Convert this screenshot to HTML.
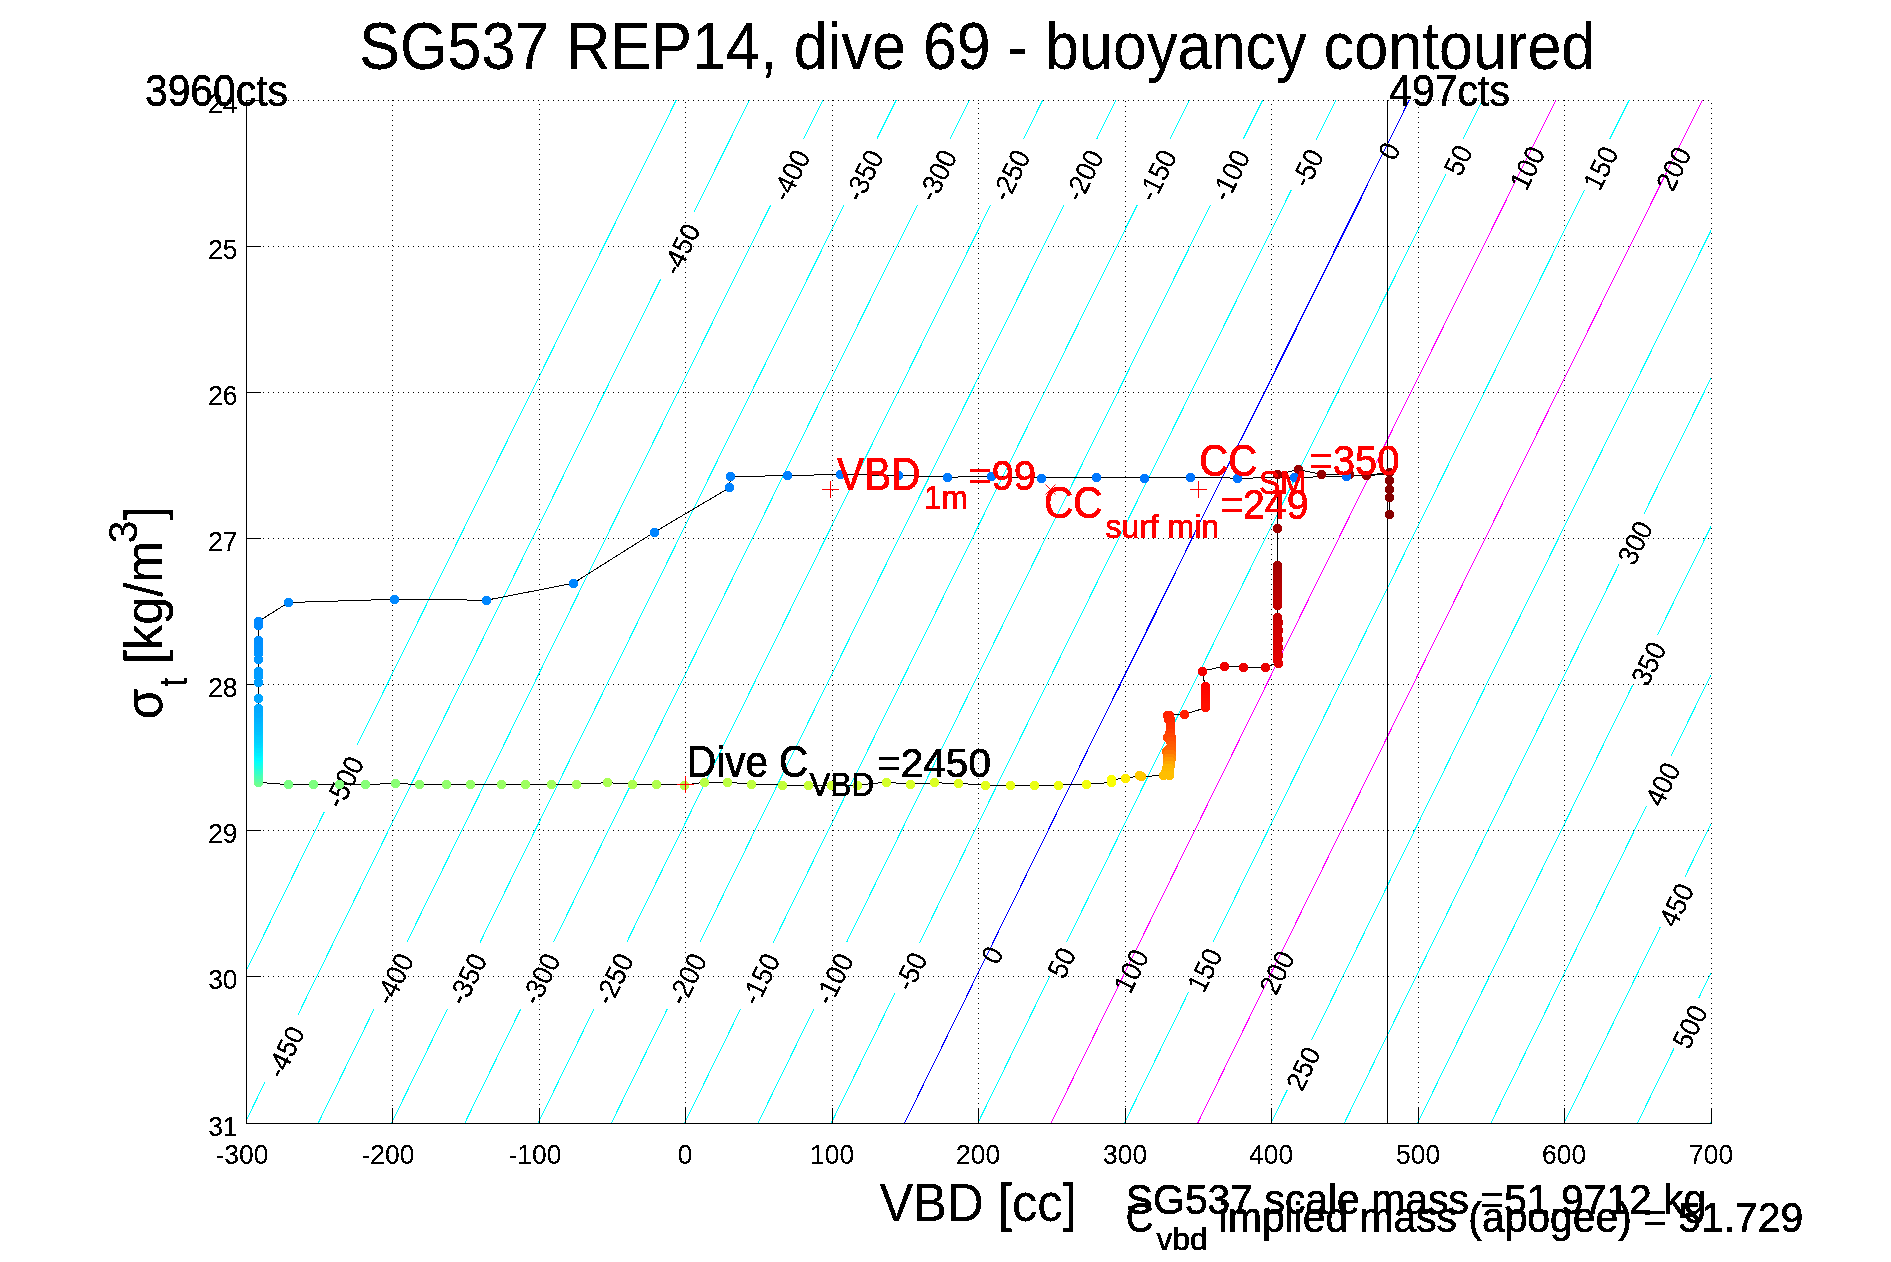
<!DOCTYPE html>
<html><head><meta charset="utf-8"><title>SG537 REP14 dive 69</title>
<style>html,body{margin:0;padding:0;background:#fff;}svg{display:block}text{font-family:"Liberation Sans",sans-serif;}</style></head><body>
<svg width="1891" height="1262" viewBox="0 0 1891 1262">
<rect width="1891" height="1262" fill="#fff"/>
<defs><filter id="bw" x="0" y="0" width="100%" height="100%" filterUnits="userSpaceOnUse" color-interpolation-filters="sRGB"><feComponentTransfer><feFuncA type="discrete" tableValues="0 0 1 1 1"/></feComponentTransfer></filter></defs>
<g shape-rendering="crispEdges" stroke="#000" stroke-width="1" stroke-dasharray="1 4" fill="none">
<line x1="248" y1="100.5" x2="1712" y2="100.5"/>
<line x1="248" y1="246.5" x2="1712" y2="246.5"/>
<line x1="248" y1="392.5" x2="1712" y2="392.5"/>
<line x1="248" y1="538.5" x2="1712" y2="538.5"/>
<line x1="248" y1="684.5" x2="1712" y2="684.5"/>
<line x1="248" y1="830.5" x2="1712" y2="830.5"/>
<line x1="248" y1="976.5" x2="1712" y2="976.5"/>
<line x1="392.5" y1="100" x2="392.5" y2="1123"/>
<line x1="539.5" y1="104" x2="539.5" y2="1123"/>
<line x1="685.5" y1="102" x2="685.5" y2="1123"/>
<line x1="832.5" y1="100" x2="832.5" y2="1123"/>
<line x1="978.5" y1="103" x2="978.5" y2="1123"/>
<line x1="1125.5" y1="101" x2="1125.5" y2="1123"/>
<line x1="1271.5" y1="104" x2="1271.5" y2="1123"/>
<line x1="1418.5" y1="102" x2="1418.5" y2="1123"/>
<line x1="1564.5" y1="100" x2="1564.5" y2="1123"/>
<line x1="1711.5" y1="103" x2="1711.5" y2="1123"/>
</g>
<g stroke="#00ffff" stroke-width="1" fill="none" shape-rendering="crispEdges">
<polyline points="676.30,100.00 647.15,158.66 618.03,217.31 588.93,275.97 559.86,334.62 530.82,393.28 501.80,451.94 472.81,510.59 443.85,569.25 414.91,627.91 386.00,686.56 357.11,745.22"/>
<polyline points="324.46,811.58 298.29,864.84 272.13,918.09 246.00,971.34"/>
<polyline points="749.60,100.00 721.64,156.26 693.71,212.52"/>
<polyline points="660.79,278.88 632.72,335.52 604.68,392.15 576.66,448.78 548.67,505.42 520.70,562.05 492.75,618.68 464.83,675.32 436.94,731.95 409.07,788.58 381.22,845.22 353.40,901.85 325.60,958.48 297.83,1015.12"/>
<polyline points="265.31,1081.48 255.66,1101.21 246.00,1120.94"/>
<polyline points="822.90,100.00 813.28,119.36 803.66,138.72"/>
<polyline points="770.70,205.08 742.56,261.80 714.44,318.52 686.35,375.24 658.28,431.95 630.24,488.67 602.22,545.39 574.22,602.11 546.25,658.83 518.31,715.55 490.39,772.26 462.49,828.98 434.62,885.70 406.77,942.42"/>
<polyline points="374.22,1008.78 346.24,1065.89 318.28,1123.00"/>
<polyline points="896.20,100.00 886.58,119.36 876.96,138.72"/>
<polyline points="844.00,205.08 815.85,261.80 787.74,318.52 759.64,375.24 731.58,431.95 703.53,488.67 675.51,545.39 647.52,602.11 619.55,658.83 591.60,715.55 563.68,772.26 535.79,828.98 507.91,885.70 480.07,942.42"/>
<polyline points="447.52,1008.78 419.53,1065.89 391.57,1123.00"/>
<polyline points="969.50,100.00 959.88,119.36 950.25,138.72"/>
<polyline points="917.30,205.08 889.15,261.80 861.03,318.52 832.94,375.24 804.87,431.95 776.83,488.67 748.81,545.39 720.81,602.11 692.84,658.83 664.90,715.55 636.97,772.26 609.08,828.98 581.21,885.70 553.36,942.42"/>
<polyline points="520.81,1008.78 492.82,1065.89 464.86,1123.00"/>
<polyline points="1042.80,100.00 1033.18,119.36 1023.55,138.72"/>
<polyline points="990.59,205.08 962.45,261.80 934.33,318.52 906.24,375.24 878.17,431.95 850.12,488.67 822.10,545.39 794.11,602.11 766.14,658.83 738.19,715.55 710.27,772.26 682.37,828.98 654.50,885.70 626.65,942.42"/>
<polyline points="594.10,1008.78 566.11,1065.89 538.15,1123.00"/>
<polyline points="1116.10,100.00 1106.48,119.36 1096.85,138.72"/>
<polyline points="1063.89,205.08 1035.75,261.80 1007.63,318.52 979.54,375.24 951.47,431.95 923.42,488.67 895.40,545.39 867.40,602.11 839.43,658.83 811.48,715.55 783.56,772.26 755.66,828.98 727.79,885.70 699.94,942.42"/>
<polyline points="667.39,1008.78 639.40,1065.89 611.44,1123.00"/>
<polyline points="1189.40,100.00 1179.78,119.36 1170.15,138.72"/>
<polyline points="1137.19,205.08 1109.05,261.80 1080.93,318.52 1052.83,375.24 1024.76,431.95 996.72,488.67 968.69,545.39 940.70,602.11 912.73,658.83 884.78,715.55 856.86,772.26 828.96,828.98 801.08,885.70 773.23,942.42"/>
<polyline points="740.68,1008.78 712.69,1065.89 684.73,1123.00"/>
<polyline points="1262.70,100.00 1253.08,119.36 1243.45,138.72"/>
<polyline points="1210.49,205.08 1182.35,261.80 1154.23,318.52 1126.13,375.24 1098.06,431.95 1070.01,488.67 1041.99,545.39 1013.99,602.11 986.02,658.83 958.07,715.55 930.15,772.26 902.25,828.98 874.38,885.70 846.53,942.42"/>
<polyline points="813.97,1008.78 785.98,1065.89 758.02,1123.00"/>
<polyline points="1336.00,100.00 1326.18,119.74 1316.37,139.49"/>
<polyline points="1291.42,189.71 1262.67,247.63 1233.95,305.55 1205.25,363.47 1176.58,421.40 1147.93,479.32 1119.31,537.24 1090.72,595.16 1062.15,653.08 1033.60,711.00 1005.09,768.93 976.59,826.85 948.13,884.77 919.68,942.69"/>
<polyline points="895.04,992.91 873.79,1036.27 852.54,1079.64 831.31,1123.00"/>
<polyline points="1482.60,100.00 1472.85,119.61 1463.11,139.21"/>
<polyline points="1445.73,174.19 1416.40,233.26 1387.10,292.34 1357.82,351.41 1328.57,410.49 1299.35,469.56 1270.15,528.64 1240.98,587.71 1211.84,646.79 1182.72,705.86 1153.64,764.94 1124.57,824.01 1095.54,883.09 1066.53,942.16"/>
<polyline points="1049.80,976.24 1025.81,1025.16 1001.84,1074.08 977.89,1123.00"/>
<polyline points="1629.20,100.00 1619.38,119.74 1609.57,139.49"/>
<polyline points="1584.62,189.71 1555.91,247.54 1527.23,305.37 1498.58,363.20 1469.95,421.03 1441.35,478.86 1412.77,536.69 1384.22,594.51 1355.69,652.34 1327.19,710.17 1298.71,768.00 1270.26,825.83 1241.84,883.66 1213.44,941.49"/>
<polyline points="1188.80,991.71 1167.34,1035.47 1145.90,1079.24 1124.47,1123.00"/>
<polyline points="1711.00,230.43 1682.32,288.25 1653.66,346.07 1625.03,403.89 1596.42,461.71 1567.84,519.52 1539.28,577.34 1510.75,635.16 1482.25,692.98 1453.77,750.80 1425.32,808.62 1396.89,866.43 1368.49,924.25 1340.11,982.07 1311.76,1039.89"/>
<polyline points="1287.15,1090.11 1279.10,1106.56 1271.05,1123.00"/>
<polyline points="1711.00,378.28 1688.59,423.55 1666.20,468.82 1643.82,514.09"/>
<polyline points="1619.01,564.31 1591.44,620.18 1563.89,676.05 1536.36,731.92 1508.86,787.79 1481.38,843.66 1453.92,899.52 1426.49,955.39 1399.08,1011.26 1371.70,1067.13 1344.34,1123.00"/>
<polyline points="1711.00,526.47 1684.23,580.68 1657.48,634.89"/>
<polyline points="1632.71,685.11 1605.75,739.85 1578.81,794.58 1551.89,849.32 1524.99,904.06 1498.12,958.79 1471.26,1013.53 1444.44,1068.26 1417.63,1123.00"/>
<polyline points="1711.00,674.98 1691.11,715.34 1671.24,755.69"/>
<polyline points="1646.53,805.91 1620.54,858.76 1594.57,911.61 1568.63,964.46 1542.70,1017.30 1516.80,1070.15 1490.92,1123.00"/>
<polyline points="1711.00,823.84 1698.08,850.11 1685.17,876.39"/>
<polyline points="1660.50,926.61 1636.40,975.71 1612.32,1024.81 1588.25,1073.90 1564.21,1123.00"/>
<polyline points="1711.00,973.03 1704.83,985.61 1698.66,998.19"/>
<polyline points="1674.04,1048.41 1655.76,1085.71 1637.50,1123.00"/>
<polyline points="1711.00,1122.57 1710.89,1122.79 1710.79,1123.00"/>
</g>
<g stroke-width="1" fill="none" shape-rendering="crispEdges">
<polyline points="1555.90,100.00 1527.65,156.83 1499.42,213.67 1471.22,270.50 1443.05,327.33 1414.90,384.17 1386.77,441.00 1358.67,497.83 1330.59,554.67 1302.54,611.50 1274.51,668.33 1246.51,725.17 1218.53,782.00 1190.58,838.83 1162.65,895.67 1134.74,952.50 1106.86,1009.33 1079.01,1066.17 1051.18,1123.00" stroke="#ff00ff"/>
<polyline points="1702.50,100.00 1674.25,156.83 1646.02,213.67 1617.82,270.50 1589.64,327.33 1561.49,384.17 1533.36,441.00 1505.26,497.83 1477.18,554.67 1449.13,611.50 1421.10,668.33 1393.10,725.17 1365.12,782.00 1337.16,838.83 1309.23,895.67 1281.33,952.50 1253.45,1009.33 1225.59,1066.17 1197.76,1123.00" stroke="#ff00ff"/>
<polyline points="1409.30,100.00 1381.05,156.83 1352.83,213.67 1324.63,270.50 1296.45,327.33 1268.30,384.17 1240.18,441.00 1212.08,497.83 1184.00,554.67 1155.95,611.50 1127.92,668.33 1099.92,725.17 1071.94,782.00 1043.99,838.83 1016.06,895.67 988.16,952.50 960.28,1009.33 932.43,1066.17 904.60,1123.00" stroke="#0000ff"/>
<line x1="1367.66" y1="185" x2="1241.12" y2="440" stroke="#0000ff"/>
<line x1="1175.94" y1="572" x2="1117.75" y2="690" stroke="#0000ff"/>
</g>
<g shape-rendering="crispEdges" stroke="#000" stroke-width="1" fill="none">
<line x1="246.5" y1="100" x2="246.5" y2="1124"/>
<line x1="246" y1="1123.5" x2="1712" y2="1123.5"/>
<line x1="246" y1="100.5" x2="261" y2="100.5"/>
<line x1="246" y1="246.5" x2="261" y2="246.5"/>
<line x1="246" y1="392.5" x2="261" y2="392.5"/>
<line x1="246" y1="538.5" x2="261" y2="538.5"/>
<line x1="246" y1="684.5" x2="261" y2="684.5"/>
<line x1="246" y1="830.5" x2="261" y2="830.5"/>
<line x1="246" y1="976.5" x2="261" y2="976.5"/>
<line x1="246" y1="1123.5" x2="261" y2="1123.5"/>
<line x1="246.5" y1="1108" x2="246.5" y2="1124"/>
<line x1="392.5" y1="1108" x2="392.5" y2="1124"/>
<line x1="539.5" y1="1108" x2="539.5" y2="1124"/>
<line x1="685.5" y1="1108" x2="685.5" y2="1124"/>
<line x1="832.5" y1="1108" x2="832.5" y2="1124"/>
<line x1="978.5" y1="1108" x2="978.5" y2="1124"/>
<line x1="1125.5" y1="1108" x2="1125.5" y2="1124"/>
<line x1="1271.5" y1="1108" x2="1271.5" y2="1124"/>
<line x1="1418.5" y1="1108" x2="1418.5" y2="1124"/>
<line x1="1564.5" y1="1108" x2="1564.5" y2="1124"/>
<line x1="1711.5" y1="1108" x2="1711.5" y2="1124"/>
<line x1="1387.5" y1="100" x2="1387.5" y2="1124"/>
</g>
<g filter="url(#bw)">
<text transform="translate(353.3,786.2) rotate(-63.74) scale(0.93,1)" font-size="28.4" text-anchor="middle">-500</text>
<text transform="translate(689.7,253.5) rotate(-63.74) scale(0.93,1)" font-size="28.4" text-anchor="middle">-450</text>
<text transform="translate(294.0,1056.1) rotate(-63.74) scale(0.93,1)" font-size="28.4" text-anchor="middle">-450</text>
<text transform="translate(799.6,179.7) rotate(-63.74) scale(0.93,1)" font-size="28.4" text-anchor="middle">-400</text>
<text transform="translate(403.0,983.4) rotate(-63.74) scale(0.93,1)" font-size="28.4" text-anchor="middle">-400</text>
<text transform="translate(872.9,179.7) rotate(-63.74) scale(0.93,1)" font-size="28.4" text-anchor="middle">-350</text>
<text transform="translate(476.3,983.4) rotate(-63.74) scale(0.93,1)" font-size="28.4" text-anchor="middle">-350</text>
<text transform="translate(946.2,179.7) rotate(-63.74) scale(0.93,1)" font-size="28.4" text-anchor="middle">-300</text>
<text transform="translate(549.6,983.4) rotate(-63.74) scale(0.93,1)" font-size="28.4" text-anchor="middle">-300</text>
<text transform="translate(1019.5,179.7) rotate(-63.74) scale(0.93,1)" font-size="28.4" text-anchor="middle">-250</text>
<text transform="translate(622.8,983.4) rotate(-63.74) scale(0.93,1)" font-size="28.4" text-anchor="middle">-250</text>
<text transform="translate(1092.8,179.7) rotate(-63.74) scale(0.93,1)" font-size="28.4" text-anchor="middle">-200</text>
<text transform="translate(696.1,983.4) rotate(-63.74) scale(0.93,1)" font-size="28.4" text-anchor="middle">-200</text>
<text transform="translate(1166.1,179.7) rotate(-63.74) scale(0.93,1)" font-size="28.4" text-anchor="middle">-150</text>
<text transform="translate(769.4,983.4) rotate(-63.74) scale(0.93,1)" font-size="28.4" text-anchor="middle">-150</text>
<text transform="translate(1239.4,179.7) rotate(-63.74) scale(0.93,1)" font-size="28.4" text-anchor="middle">-100</text>
<text transform="translate(842.7,983.4) rotate(-63.74) scale(0.93,1)" font-size="28.4" text-anchor="middle">-100</text>
<text transform="translate(1316.4,172.4) rotate(-63.74) scale(0.93,1)" font-size="28.4" text-anchor="middle">-50</text>
<text transform="translate(919.8,975.6) rotate(-63.74) scale(0.93,1)" font-size="28.4" text-anchor="middle">-50</text>
<text transform="translate(1398.1,155.5) rotate(-63.74) scale(0.93,1)" font-size="28.4" text-anchor="middle">0</text>
<text transform="translate(1001.0,959.5) rotate(-63.74) scale(0.93,1)" font-size="28.4" text-anchor="middle">0</text>
<text transform="translate(1466.9,164.5) rotate(-63.74) scale(0.93,1)" font-size="28.4" text-anchor="middle">50</text>
<text transform="translate(1070.6,967.0) rotate(-63.74) scale(0.93,1)" font-size="28.4" text-anchor="middle">50</text>
<text transform="translate(1536.3,172.3) rotate(-63.74) scale(0.93,1)" font-size="28.4" text-anchor="middle">100</text>
<text transform="translate(1139.9,975.3) rotate(-63.74) scale(0.93,1)" font-size="28.4" text-anchor="middle">100</text>
<text transform="translate(1609.6,172.4) rotate(-63.74) scale(0.93,1)" font-size="28.4" text-anchor="middle">150</text>
<text transform="translate(1213.6,974.4) rotate(-63.74) scale(0.93,1)" font-size="28.4" text-anchor="middle">150</text>
<text transform="translate(1682.5,173.2) rotate(-63.74) scale(0.93,1)" font-size="28.4" text-anchor="middle">200</text>
<text transform="translate(1285.7,976.8) rotate(-63.74) scale(0.93,1)" font-size="28.4" text-anchor="middle">200</text>
<text transform="translate(1311.9,1072.8) rotate(-63.74) scale(0.93,1)" font-size="28.4" text-anchor="middle">250</text>
<text transform="translate(1643.9,547.0) rotate(-63.74) scale(0.93,1)" font-size="28.4" text-anchor="middle">300</text>
<text transform="translate(1657.6,667.8) rotate(-63.74) scale(0.93,1)" font-size="28.4" text-anchor="middle">350</text>
<text transform="translate(1671.4,788.6) rotate(-63.74) scale(0.93,1)" font-size="28.4" text-anchor="middle">400</text>
<text transform="translate(1685.3,909.3) rotate(-63.74) scale(0.93,1)" font-size="28.4" text-anchor="middle">450</text>
<text transform="translate(1698.8,1031.1) rotate(-63.74) scale(0.93,1)" font-size="28.4" text-anchor="middle">500</text>
<text transform="translate(237.50,112.90) scale(0.9300,1)" font-size="28.4" fill="#000" text-anchor="end">24</text>
<text transform="translate(237.50,258.90) scale(0.9300,1)" font-size="28.4" fill="#000" text-anchor="end">25</text>
<text transform="translate(237.50,404.90) scale(0.9300,1)" font-size="28.4" fill="#000" text-anchor="end">26</text>
<text transform="translate(237.50,550.90) scale(0.9300,1)" font-size="28.4" fill="#000" text-anchor="end">27</text>
<text transform="translate(237.50,696.90) scale(0.9300,1)" font-size="28.4" fill="#000" text-anchor="end">28</text>
<text transform="translate(237.50,842.90) scale(0.9300,1)" font-size="28.4" fill="#000" text-anchor="end">29</text>
<text transform="translate(237.50,988.90) scale(0.9300,1)" font-size="28.4" fill="#000" text-anchor="end">30</text>
<text transform="translate(237.50,1135.90) scale(0.9300,1)" font-size="28.4" fill="#000" text-anchor="end">31</text>
<text transform="translate(241.90,1163.60) scale(0.9300,1)" font-size="28.4" fill="#000" text-anchor="middle">-300</text>
<text transform="translate(387.90,1163.60) scale(0.9300,1)" font-size="28.4" fill="#000" text-anchor="middle">-200</text>
<text transform="translate(534.90,1163.60) scale(0.9300,1)" font-size="28.4" fill="#000" text-anchor="middle">-100</text>
<text transform="translate(685.10,1163.60) scale(0.9300,1)" font-size="28.4" fill="#000" text-anchor="middle">0</text>
<text transform="translate(832.10,1163.60) scale(0.9300,1)" font-size="28.4" fill="#000" text-anchor="middle">100</text>
<text transform="translate(978.10,1163.60) scale(0.9300,1)" font-size="28.4" fill="#000" text-anchor="middle">200</text>
<text transform="translate(1125.10,1163.60) scale(0.9300,1)" font-size="28.4" fill="#000" text-anchor="middle">300</text>
<text transform="translate(1271.10,1163.60) scale(0.9300,1)" font-size="28.4" fill="#000" text-anchor="middle">400</text>
<text transform="translate(1418.10,1163.60) scale(0.9300,1)" font-size="28.4" fill="#000" text-anchor="middle">500</text>
<text transform="translate(1564.10,1163.60) scale(0.9300,1)" font-size="28.4" fill="#000" text-anchor="middle">600</text>
<text transform="translate(1711.10,1163.60) scale(0.9300,1)" font-size="28.4" fill="#000" text-anchor="middle">700</text>
</g>
<polyline fill="none" stroke="#000" stroke-width="1" shape-rendering="crispEdges" points="1388.5,474.5 1346.7,476.1 1294.4,477.5 1237.7,478.2 1190.8,477.1 1144.2,478.0 1096.1,477.1 1041.5,478.0 991.9,476.7 947.5,477.1 898.4,475.4 840.7,474.6 787.4,475.4 730.5,476.9 729.5,487.7 654.3,532.2 573.2,583.3 486.4,600.2 394.2,599.3 288.5,602.5 258.5,621.4 258.5,625.0 258.5,640.9 258.5,645.2 258.5,649.1 258.5,653.9 258.5,659.4 258.5,671.3 258.5,676.9 258.5,682.4 258.5,698.3 258.5,708.6 258.5,713.3 258.5,717.3 258.5,719.9 258.5,722.5 258.5,725.1 258.5,727.7 258.5,730.3 258.5,732.9 258.5,735.5 258.5,738.1 258.5,740.7 258.5,743.3 258.5,745.9 258.5,748.5 258.5,751.1 258.5,753.7 258.5,756.3 258.5,758.9 258.5,761.5 258.5,764.1 258.5,766.7 258.5,769.3 258.5,771.9 258.5,774.5 258.5,777.1 258.5,779.7 258.5,782.3 288.5,784.7 313.4,784.7 339.9,784.7 365.6,784.7 395.1,783.3 419.9,784.7 446.5,784.7 470.7,784.7 501.3,784.7 525.6,784.7 551.2,784.7 576.4,784.1 607.8,782.7 632.6,784.1 656.3,784.1 684.3,785.1 704.3,782.2 727.1,782.2 751.9,784.2 782.2,785.1 808.5,785.7 831.3,785.7 857.0,785.1 886.4,782.2 910.7,784.2 934.1,782.8 958.4,783.4 985.0,785.1 1010.7,785.1 1034.6,785.1 1058.9,785.1 1086.9,784.2 1111.2,782.5 1111.6,779.5 1125.5,778.5 1139.8,775.6 1141.2,776.6 1163.7,775.4 1169.5,775.4 1165.5,772.0 1169.5,772.0 1166.7,768.4 1169.5,768.4 1167.0,765.0 1170.0,765.0 1167.5,761.4 1170.5,761.4 1167.5,758.0 1171.0,758.0 1167.0,754.5 1171.5,754.5 1166.5,751.0 1171.5,751.0 1169.0,748.0 1171.5,748.0 1171.5,745.5 1170.0,741.4 1171.5,741.4 1167.5,737.5 1171.0,737.5 1169.5,733.5 1170.5,733.5 1170.5,729.2 1170.5,726.0 1170.5,723.0 1168.5,719.0 1170.5,719.0 1167.5,715.3 1169.5,715.3 1184.4,714.4 1205.3,707.9 1205.3,705.2 1205.3,702.5 1205.3,699.8 1205.3,697.1 1205.3,694.5 1205.3,691.8 1205.3,689.1 1205.3,686.4 1202.0,671.3 1224.2,666.0 1243.0,667.1 1265.2,667.1 1278.5,663.1 1277.9,660.4 1277.9,657.7 1278.5,655.1 1277.9,652.4 1277.9,649.7 1278.5,647.0 1277.9,644.4 1277.9,641.7 1278.5,639.0 1277.9,636.3 1277.9,633.7 1278.5,631.0 1277.9,628.3 1277.9,625.6 1278.5,623.0 1277.9,620.3 1277.9,617.6 1277.9,605.4 1277.9,602.7 1277.9,600.1 1277.9,597.4 1277.9,594.8 1277.9,592.1 1277.9,589.4 1277.9,586.8 1277.9,584.1 1277.9,581.5 1277.9,578.8 1277.9,576.1 1277.9,573.5 1277.9,570.8 1277.9,568.2 1277.9,565.5 1277.7,528.6 1277.7,474.4 1298.1,469.6 1321.5,474.4 1349.6,474.9 1366.7,475.8 1389.5,472.0 1389.5,480.6 1389.5,489.1 1389.5,497.7 1389.5,514.4"/>
<g stroke="none" shape-rendering="crispEdges">
<circle cx="1389.5" cy="514.5" r="4.6" fill="rgb(133,0,0)"/>
<circle cx="1389.5" cy="497.5" r="4.6" fill="rgb(133,0,0)"/>
<circle cx="1389.5" cy="489.5" r="4.6" fill="rgb(133,0,0)"/>
<circle cx="1389.5" cy="480.5" r="4.6" fill="rgb(133,0,0)"/>
<circle cx="1389.5" cy="472.5" r="4.6" fill="rgb(133,0,0)"/>
<circle cx="1366.5" cy="475.5" r="4.6" fill="rgb(145,0,0)"/>
<circle cx="1349.5" cy="474.5" r="4.6" fill="rgb(147,0,0)"/>
<circle cx="1321.5" cy="474.5" r="4.6" fill="rgb(149,0,0)"/>
<circle cx="1298.5" cy="469.5" r="4.6" fill="rgb(151,0,0)"/>
<circle cx="1277.5" cy="474.5" r="4.6" fill="rgb(153,0,0)"/>
<circle cx="1277.5" cy="528.5" r="4.6" fill="rgb(160,0,0)"/>
<circle cx="1277.5" cy="565.5" r="4.6" fill="rgb(163,0,0)"/>
<circle cx="1277.5" cy="568.5" r="4.6" fill="rgb(165,0,0)"/>
<circle cx="1277.5" cy="570.5" r="4.6" fill="rgb(167,0,0)"/>
<circle cx="1277.5" cy="573.5" r="4.6" fill="rgb(169,0,0)"/>
<circle cx="1277.5" cy="576.5" r="4.6" fill="rgb(171,0,0)"/>
<circle cx="1277.5" cy="578.5" r="4.6" fill="rgb(173,0,0)"/>
<circle cx="1277.5" cy="581.5" r="4.6" fill="rgb(175,0,0)"/>
<circle cx="1277.5" cy="584.5" r="4.6" fill="rgb(177,0,0)"/>
<circle cx="1277.5" cy="586.5" r="4.6" fill="rgb(180,0,0)"/>
<circle cx="1277.5" cy="589.5" r="4.6" fill="rgb(182,0,0)"/>
<circle cx="1277.5" cy="592.5" r="4.6" fill="rgb(184,0,0)"/>
<circle cx="1277.5" cy="594.5" r="4.6" fill="rgb(186,0,0)"/>
<circle cx="1277.5" cy="597.5" r="4.6" fill="rgb(188,0,0)"/>
<circle cx="1277.5" cy="600.5" r="4.6" fill="rgb(190,0,0)"/>
<circle cx="1277.5" cy="602.5" r="4.6" fill="rgb(192,0,0)"/>
<circle cx="1277.5" cy="605.5" r="4.6" fill="rgb(194,0,0)"/>
<circle cx="1277.5" cy="617.5" r="4.6" fill="rgb(199,0,0)"/>
<circle cx="1277.5" cy="620.5" r="4.6" fill="rgb(201,0,0)"/>
<circle cx="1278.5" cy="622.5" r="4.6" fill="rgb(202,0,0)"/>
<circle cx="1277.5" cy="625.5" r="4.6" fill="rgb(204,0,0)"/>
<circle cx="1277.5" cy="628.5" r="4.6" fill="rgb(206,0,0)"/>
<circle cx="1278.5" cy="630.5" r="4.6" fill="rgb(208,0,0)"/>
<circle cx="1277.5" cy="633.5" r="4.6" fill="rgb(210,0,0)"/>
<circle cx="1277.5" cy="636.5" r="4.6" fill="rgb(211,0,0)"/>
<circle cx="1278.5" cy="639.5" r="4.6" fill="rgb(213,0,0)"/>
<circle cx="1277.5" cy="641.5" r="4.6" fill="rgb(215,0,0)"/>
<circle cx="1277.5" cy="644.5" r="4.6" fill="rgb(217,0,0)"/>
<circle cx="1278.5" cy="647.5" r="4.6" fill="rgb(219,0,0)"/>
<circle cx="1277.5" cy="649.5" r="4.6" fill="rgb(220,0,0)"/>
<circle cx="1277.5" cy="652.5" r="4.6" fill="rgb(222,0,0)"/>
<circle cx="1278.5" cy="655.5" r="4.6" fill="rgb(224,0,0)"/>
<circle cx="1277.5" cy="657.5" r="4.6" fill="rgb(226,0,0)"/>
<circle cx="1277.5" cy="660.5" r="4.6" fill="rgb(228,0,0)"/>
<circle cx="1278.5" cy="663.5" r="4.6" fill="rgb(229,0,0)"/>
<circle cx="1265.5" cy="667.5" r="4.6" fill="rgb(233,0,0)"/>
<circle cx="1243.5" cy="667.5" r="4.6" fill="rgb(236,0,0)"/>
<circle cx="1224.5" cy="666.5" r="4.6" fill="rgb(240,0,0)"/>
<circle cx="1202.5" cy="671.5" r="4.6" fill="rgb(245,0,0)"/>
<circle cx="1205.5" cy="686.5" r="4.6" fill="rgb(255,0,0)"/>
<circle cx="1205.5" cy="689.5" r="4.6" fill="rgb(255,2,0)"/>
<circle cx="1205.5" cy="691.5" r="4.6" fill="rgb(255,4,0)"/>
<circle cx="1205.5" cy="694.5" r="4.6" fill="rgb(255,7,0)"/>
<circle cx="1205.5" cy="697.5" r="4.6" fill="rgb(255,9,0)"/>
<circle cx="1205.5" cy="699.5" r="4.6" fill="rgb(255,11,0)"/>
<circle cx="1205.5" cy="702.5" r="4.6" fill="rgb(255,13,0)"/>
<circle cx="1205.5" cy="705.5" r="4.6" fill="rgb(255,15,0)"/>
<circle cx="1205.5" cy="707.5" r="4.6" fill="rgb(255,17,0)"/>
<circle cx="1184.5" cy="714.5" r="4.6" fill="rgb(255,30,0)"/>
<circle cx="1169.5" cy="715.5" r="4.6" fill="rgb(255,31,0)"/>
<circle cx="1167.5" cy="715.5" r="4.6" fill="rgb(255,31,0)"/>
<circle cx="1170.5" cy="719.5" r="4.6" fill="rgb(255,36,0)"/>
<circle cx="1168.5" cy="719.5" r="4.6" fill="rgb(255,36,0)"/>
<circle cx="1170.5" cy="723.5" r="4.6" fill="rgb(255,41,0)"/>
<circle cx="1170.5" cy="726.5" r="4.6" fill="rgb(255,46,0)"/>
<circle cx="1170.5" cy="729.5" r="4.6" fill="rgb(255,50,0)"/>
<circle cx="1170.5" cy="733.5" r="4.6" fill="rgb(255,60,0)"/>
<circle cx="1169.5" cy="733.5" r="4.6" fill="rgb(255,60,0)"/>
<circle cx="1171.5" cy="737.5" r="4.6" fill="rgb(255,69,0)"/>
<circle cx="1167.5" cy="737.5" r="4.6" fill="rgb(255,69,0)"/>
<circle cx="1171.5" cy="741.5" r="4.6" fill="rgb(255,78,0)"/>
<circle cx="1170.5" cy="741.5" r="4.6" fill="rgb(255,78,0)"/>
<circle cx="1171.5" cy="745.5" r="4.6" fill="rgb(255,87,0)"/>
<circle cx="1171.5" cy="748.5" r="4.6" fill="rgb(255,93,0)"/>
<circle cx="1169.5" cy="748.5" r="4.6" fill="rgb(255,93,0)"/>
<circle cx="1171.5" cy="751.5" r="4.6" fill="rgb(255,99,0)"/>
<circle cx="1166.5" cy="751.5" r="4.6" fill="rgb(255,99,0)"/>
<circle cx="1171.5" cy="754.5" r="4.6" fill="rgb(255,117,0)"/>
<circle cx="1167.5" cy="754.5" r="4.6" fill="rgb(255,117,0)"/>
<circle cx="1171.5" cy="758.5" r="4.6" fill="rgb(255,135,0)"/>
<circle cx="1167.5" cy="758.5" r="4.6" fill="rgb(255,135,0)"/>
<circle cx="1170.5" cy="761.5" r="4.6" fill="rgb(255,151,0)"/>
<circle cx="1167.5" cy="761.5" r="4.6" fill="rgb(255,151,0)"/>
<circle cx="1170.5" cy="765.5" r="4.6" fill="rgb(255,167,0)"/>
<circle cx="1167.5" cy="765.5" r="4.6" fill="rgb(255,167,0)"/>
<circle cx="1169.5" cy="768.5" r="4.6" fill="rgb(255,181,0)"/>
<circle cx="1166.5" cy="768.5" r="4.6" fill="rgb(255,181,0)"/>
<circle cx="1169.5" cy="772.5" r="4.6" fill="rgb(255,185,0)"/>
<circle cx="1165.5" cy="772.5" r="4.6" fill="rgb(255,185,0)"/>
<circle cx="1169.5" cy="775.5" r="4.6" fill="rgb(255,190,0)"/>
<circle cx="1163.5" cy="775.5" r="4.6" fill="rgb(255,190,0)"/>
<circle cx="1141.5" cy="776.5" r="4.6" fill="rgb(255,195,0)"/>
<circle cx="1139.5" cy="775.5" r="4.6" fill="rgb(255,200,0)"/>
<circle cx="1125.5" cy="778.5" r="4.6" fill="rgb(255,237,0)"/>
<circle cx="1111.5" cy="779.5" r="4.6" fill="rgb(251,255,4)"/>
<circle cx="1111.5" cy="782.5" r="4.6" fill="rgb(250,255,5)"/>
<circle cx="1086.5" cy="784.5" r="4.6" fill="rgb(242,255,13)"/>
<circle cx="1058.5" cy="785.5" r="4.6" fill="rgb(238,255,17)"/>
<circle cx="1034.5" cy="785.5" r="4.6" fill="rgb(234,255,21)"/>
<circle cx="1010.5" cy="785.5" r="4.6" fill="rgb(231,255,24)"/>
<circle cx="985.5" cy="785.5" r="4.6" fill="rgb(227,255,28)"/>
<circle cx="958.5" cy="783.5" r="4.6" fill="rgb(223,255,32)"/>
<circle cx="934.5" cy="782.5" r="4.6" fill="rgb(219,255,36)"/>
<circle cx="910.5" cy="784.5" r="4.6" fill="rgb(216,255,39)"/>
<circle cx="886.5" cy="782.5" r="4.6" fill="rgb(212,255,43)"/>
<circle cx="857.5" cy="785.5" r="4.6" fill="rgb(208,255,47)"/>
<circle cx="831.5" cy="785.5" r="4.6" fill="rgb(204,255,51)"/>
<circle cx="808.5" cy="785.5" r="4.6" fill="rgb(200,255,55)"/>
<circle cx="782.5" cy="785.5" r="4.6" fill="rgb(196,255,59)"/>
<circle cx="751.5" cy="784.5" r="4.6" fill="rgb(192,255,63)"/>
<circle cx="727.5" cy="782.5" r="4.6" fill="rgb(188,255,67)"/>
<circle cx="704.5" cy="782.5" r="4.6" fill="rgb(185,255,70)"/>
<circle cx="684.5" cy="785.5" r="4.6" fill="rgb(182,255,73)"/>
<circle cx="656.5" cy="784.5" r="4.6" fill="rgb(177,255,78)"/>
<circle cx="632.5" cy="784.5" r="4.6" fill="rgb(174,255,81)"/>
<circle cx="607.5" cy="782.5" r="4.6" fill="rgb(170,255,85)"/>
<circle cx="576.5" cy="784.5" r="4.6" fill="rgb(166,255,89)"/>
<circle cx="551.5" cy="784.5" r="4.6" fill="rgb(162,255,93)"/>
<circle cx="525.5" cy="784.5" r="4.6" fill="rgb(158,255,97)"/>
<circle cx="501.5" cy="784.5" r="4.6" fill="rgb(154,255,101)"/>
<circle cx="470.5" cy="784.5" r="4.6" fill="rgb(150,255,105)"/>
<circle cx="446.5" cy="784.5" r="4.6" fill="rgb(146,255,109)"/>
<circle cx="419.5" cy="784.5" r="4.6" fill="rgb(142,255,113)"/>
<circle cx="395.5" cy="783.5" r="4.6" fill="rgb(138,255,117)"/>
<circle cx="365.5" cy="784.5" r="4.6" fill="rgb(134,255,121)"/>
<circle cx="339.5" cy="784.5" r="4.6" fill="rgb(130,255,125)"/>
<circle cx="313.5" cy="784.5" r="4.6" fill="rgb(126,255,129)"/>
<circle cx="288.5" cy="784.5" r="4.6" fill="rgb(122,255,133)"/>
<circle cx="258.5" cy="782.5" r="4.6" fill="rgb(112,255,143)"/>
<circle cx="258.5" cy="779.5" r="4.6" fill="rgb(100,255,155)"/>
<circle cx="258.5" cy="777.5" r="4.6" fill="rgb(88,255,167)"/>
<circle cx="258.5" cy="774.5" r="4.6" fill="rgb(75,255,180)"/>
<circle cx="258.5" cy="771.5" r="4.6" fill="rgb(63,255,192)"/>
<circle cx="258.5" cy="769.5" r="4.6" fill="rgb(51,255,204)"/>
<circle cx="258.5" cy="766.5" r="4.6" fill="rgb(39,255,216)"/>
<circle cx="258.5" cy="764.5" r="4.6" fill="rgb(26,255,229)"/>
<circle cx="258.5" cy="761.5" r="4.6" fill="rgb(14,255,241)"/>
<circle cx="258.5" cy="758.5" r="4.6" fill="rgb(2,255,253)"/>
<circle cx="258.5" cy="756.5" r="4.6" fill="rgb(0,250,255)"/>
<circle cx="258.5" cy="753.5" r="4.6" fill="rgb(0,243,255)"/>
<circle cx="258.5" cy="751.5" r="4.6" fill="rgb(0,237,255)"/>
<circle cx="258.5" cy="748.5" r="4.6" fill="rgb(0,230,255)"/>
<circle cx="258.5" cy="745.5" r="4.6" fill="rgb(0,224,255)"/>
<circle cx="258.5" cy="743.5" r="4.6" fill="rgb(0,217,255)"/>
<circle cx="258.5" cy="740.5" r="4.6" fill="rgb(0,212,255)"/>
<circle cx="258.5" cy="738.5" r="4.6" fill="rgb(0,208,255)"/>
<circle cx="258.5" cy="735.5" r="4.6" fill="rgb(0,204,255)"/>
<circle cx="258.5" cy="732.5" r="4.6" fill="rgb(0,200,255)"/>
<circle cx="258.5" cy="730.5" r="4.6" fill="rgb(0,195,255)"/>
<circle cx="258.5" cy="727.5" r="4.6" fill="rgb(0,191,255)"/>
<circle cx="258.5" cy="725.5" r="4.6" fill="rgb(0,188,255)"/>
<circle cx="258.5" cy="722.5" r="4.6" fill="rgb(0,185,255)"/>
<circle cx="258.5" cy="719.5" r="4.6" fill="rgb(0,181,255)"/>
<circle cx="258.5" cy="717.5" r="4.6" fill="rgb(0,178,255)"/>
<circle cx="258.5" cy="713.5" r="4.6" fill="rgb(0,173,255)"/>
<circle cx="258.5" cy="708.5" r="4.6" fill="rgb(0,169,255)"/>
<circle cx="258.5" cy="698.5" r="4.6" fill="rgb(0,165,255)"/>
<circle cx="258.5" cy="682.5" r="4.6" fill="rgb(0,159,255)"/>
<circle cx="258.5" cy="676.5" r="4.6" fill="rgb(0,157,255)"/>
<circle cx="258.5" cy="671.5" r="4.6" fill="rgb(0,155,255)"/>
<circle cx="258.5" cy="659.5" r="4.6" fill="rgb(0,150,255)"/>
<circle cx="258.5" cy="653.5" r="4.6" fill="rgb(0,148,255)"/>
<circle cx="258.5" cy="649.5" r="4.6" fill="rgb(0,146,255)"/>
<circle cx="258.5" cy="645.5" r="4.6" fill="rgb(0,145,255)"/>
<circle cx="258.5" cy="640.5" r="4.6" fill="rgb(0,143,255)"/>
<circle cx="258.5" cy="625.5" r="4.6" fill="rgb(0,137,255)"/>
<circle cx="258.5" cy="621.5" r="4.6" fill="rgb(0,136,255)"/>
<circle cx="288.5" cy="602.5" r="4.6" fill="rgb(0,137,255)"/>
<circle cx="394.5" cy="599.5" r="4.6" fill="rgb(0,136,255)"/>
<circle cx="486.5" cy="600.5" r="4.6" fill="rgb(0,135,255)"/>
<circle cx="573.5" cy="583.5" r="4.6" fill="rgb(0,133,255)"/>
<circle cx="654.5" cy="532.5" r="4.6" fill="rgb(0,132,255)"/>
<circle cx="729.5" cy="487.5" r="4.6" fill="rgb(0,130,255)"/>
<circle cx="730.5" cy="476.5" r="4.6" fill="rgb(0,129,255)"/>
<circle cx="787.5" cy="475.5" r="4.6" fill="rgb(0,128,255)"/>
<circle cx="840.5" cy="474.5" r="4.6" fill="rgb(0,126,255)"/>
<circle cx="898.5" cy="475.5" r="4.6" fill="rgb(0,125,255)"/>
<circle cx="947.5" cy="477.5" r="4.6" fill="rgb(0,123,255)"/>
<circle cx="991.5" cy="476.5" r="4.6" fill="rgb(0,122,255)"/>
<circle cx="1041.5" cy="478.5" r="4.6" fill="rgb(0,121,255)"/>
<circle cx="1096.5" cy="477.5" r="4.6" fill="rgb(0,119,255)"/>
<circle cx="1144.5" cy="478.5" r="4.6" fill="rgb(0,118,255)"/>
<circle cx="1190.5" cy="477.5" r="4.6" fill="rgb(0,116,255)"/>
<circle cx="1237.5" cy="478.5" r="4.6" fill="rgb(0,115,255)"/>
<circle cx="1294.5" cy="477.5" r="4.6" fill="rgb(0,114,255)"/>
<circle cx="1346.5" cy="476.5" r="4.6" fill="rgb(0,112,255)"/>
</g>
<g stroke="#ff0000" stroke-width="1" fill="none" shape-rendering="crispEdges">
<line x1="822.0" y1="489.5" x2="839.0" y2="489.5"/><line x1="830.5" y1="481.0" x2="830.5" y2="498.0"/>
<line x1="1190.0" y1="489.5" x2="1207.0" y2="489.5"/><line x1="1198.5" y1="481.0" x2="1198.5" y2="498.0"/>
<line x1="677.0" y1="784.5" x2="694.0" y2="784.5"/><line x1="685.5" y1="776.0" x2="685.5" y2="793.0"/>
</g>
<g stroke="#ff0000" stroke-width="1" fill="none"><path d="M1045.5 484.5L1055.5 494.5M1055.5 484.5L1045.5 494.5"/></g>
<g filter="url(#bw)">
<text transform="translate(837.02,489.85) scale(0.8861,1)" font-size="45.79" fill="#ff0000" stroke="#ff0000" stroke-width="0.5" stroke-linejoin="round">VBD</text>
<text transform="translate(923.95,508.75) scale(0.9528,1)" font-size="33.19" fill="#ff0000" stroke="#ff0000" stroke-width="0.5" stroke-linejoin="round">1m</text>
<text transform="translate(968.02,489.85) scale(0.9563,1)" font-size="41.99" fill="#ff0000" stroke="#ff0000" stroke-width="0.5" stroke-linejoin="round">=99</text>
<text transform="translate(1043.99,518.45) scale(0.8970,1)" font-size="45.29" fill="#ff0000" stroke="#ff0000" stroke-width="0.5" stroke-linejoin="round">CC</text>
<text transform="translate(1105.45,537.85) scale(0.9658,1)" font-size="33.09" fill="#ff0000" stroke="#ff0000" stroke-width="0.5" stroke-linejoin="round">surf min</text>
<text transform="translate(1220.16,518.65) scale(0.9355,1)" font-size="41.99" fill="#ff0000" stroke="#ff0000" stroke-width="0.5" stroke-linejoin="round">=249</text>
<text transform="translate(1199.21,475.55) scale(0.8889,1)" font-size="45.29" fill="#ff0000" stroke="#ff0000" stroke-width="0.5" stroke-linejoin="round">CC</text>
<text transform="translate(1258.90,493.95) scale(0.9532,1)" font-size="33.29" fill="#ff0000" stroke="#ff0000" stroke-width="0.5" stroke-linejoin="round">SM</text>
<text transform="translate(1309.22,475.45) scale(0.9554,1)" font-size="41.99" fill="#ff0000" stroke="#ff0000" stroke-width="0.5" stroke-linejoin="round">=350</text>
<text transform="translate(687.09,776.85) scale(0.9247,1)" font-size="43.69" fill="#000" stroke="#000" stroke-width="0.5" stroke-linejoin="round">Dive C</text>
<text transform="translate(809.57,795.75) scale(0.9663,1)" font-size="32.49" fill="#000" stroke="#000" stroke-width="0.5" stroke-linejoin="round">VBD</text>
<text transform="translate(876.99,776.85) scale(0.9882,1)" font-size="41.09" fill="#000" stroke="#000" stroke-width="0.5" stroke-linejoin="round">=2450</text>
<text transform="translate(144.90,105.91) scale(0.9383,1)" font-size="43.57" fill="#000" stroke="#000" stroke-width="0.3" stroke-linejoin="round">3960cts</text>
<text transform="translate(1389.11,105.61) scale(0.9413,1)" font-size="43.57" fill="#000" stroke="#000" stroke-width="0.3" stroke-linejoin="round">497cts</text>
<text transform="translate(1125.84,1214.18) scale(0.9819,1)" font-size="41.63" fill="#000" stroke="#000" stroke-width="0.4" stroke-linejoin="round">SG537 scale mass =51.9712 kg</text>
<text transform="translate(1125.75,1231.78) scale(0.9001,1)" font-size="42.93" fill="#000" stroke="#000" stroke-width="0.4" stroke-linejoin="round">C</text>
<text transform="translate(1156.42,1250.28) scale(0.9915,1)" font-size="32.13" fill="#000" stroke="#000" stroke-width="0.4" stroke-linejoin="round">vbd</text>
<text transform="translate(1218.82,1231.78) scale(0.9810,1)" font-size="41.63" fill="#000" stroke="#000" stroke-width="0.4" stroke-linejoin="round">implied mass (apogee) = 51.729</text>
<text transform="translate(359.15,69.00) scale(0.9148,1)" font-size="66.8" fill="#000">SG537 REP14, dive 69 - buoyancy contoured</text>
<text transform="translate(879.55,1220.50) scale(0.9383,1)" font-size="54" fill="#000">VBD [cc]</text>
<g transform="translate(162.2,0) rotate(-90)">
<text transform="translate(-719.21,0.00) scale(0.9193,1)" font-size="54" fill="#000">σ</text>
<text transform="translate(-686.68,24.70) scale(0.8039,1)" font-size="40" fill="#000">t</text>
<text transform="translate(-664.06,0.00) scale(0.9350,1)" font-size="54" fill="#000">[kg/m</text>
<text transform="translate(-543.45,-24.80) scale(1.0316,1)" font-size="40" fill="#000">3</text>
<text transform="translate(-520.79,0.00) scale(0.9722,1)" font-size="54" fill="#000">]</text>
</g>
</g>
</svg></body></html>
